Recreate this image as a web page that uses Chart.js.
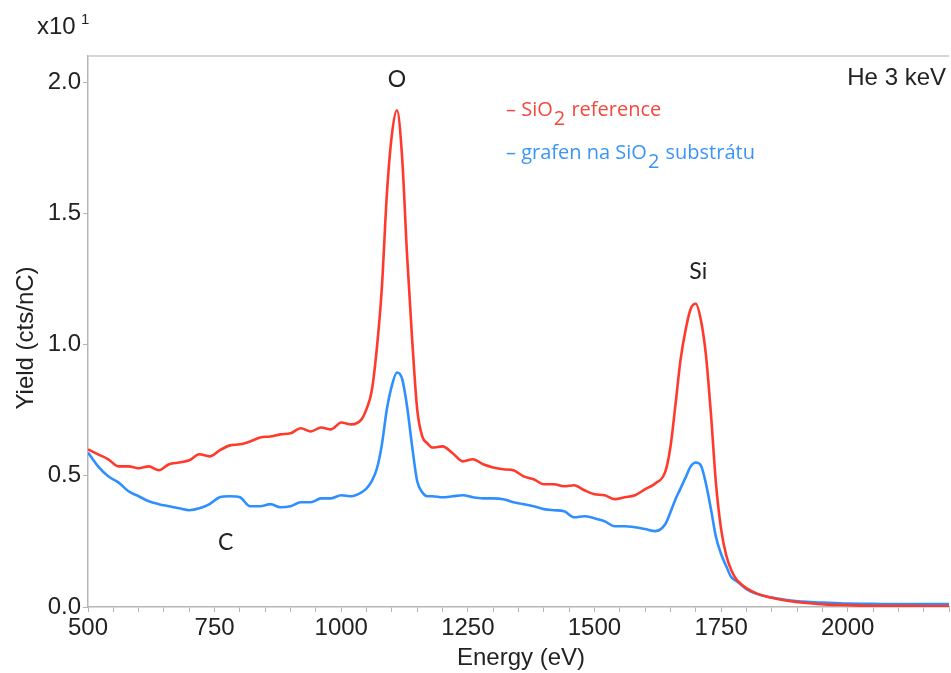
<!DOCTYPE html>
<html>
<head>
<meta charset="utf-8">
<script src="https://cdn.jsdelivr.net/npm/chart.js@4.4.0/dist/chart.umd.min.js"></script>
<style>
    body { margin: 0; background: #fff; }
    #spectrum { display: block; }
</style>
</head>
<body>
<canvas id="spectrum" width="951" height="673"></canvas>
<script>
    // energies (eV) and yields (x10 cts/nC)
    var energies = [
        500, 520, 540, 560, 580, 600, 620, 640, 660, 680, 700, 720, 740, 760, 780, 800, 820, 840, 860, 880,
        900, 920, 940, 960, 980, 1000, 1020, 1040,
        1050, 1060, 1070, 1080, 1090, 1100, 1110, 1120, 1130, 1140, 1150, 1160, 1170, 1180,
        1200, 1220, 1240, 1260, 1280, 1300, 1320, 1340, 1360, 1380, 1400, 1420, 1440, 1460, 1480, 1500,
        1520, 1540, 1560, 1580, 1600, 1620, 1640,
        1650, 1660, 1670, 1680, 1690, 1700, 1710, 1720, 1730, 1740, 1750, 1760, 1770, 1780, 1790, 1800,
        1820, 1850, 1880, 1920, 1960, 2000, 2050, 2100, 2150, 2200
    ];

    var sio2Reference = [
        0.601, 0.582, 0.563, 0.536, 0.536, 0.529, 0.536, 0.521, 0.544, 0.551, 0.559, 0.582, 0.574, 0.597, 0.616, 0.620, 0.631, 0.646, 0.650, 0.658,
        0.662, 0.681, 0.669, 0.684, 0.677, 0.703, 0.696, 0.715,
        0.755, 0.821, 0.98, 1.21, 1.57, 1.80, 1.893, 1.72, 1.34, 1.02, 0.753, 0.65, 0.624, 0.608,
        0.612, 0.586, 0.555, 0.563, 0.544, 0.532, 0.525, 0.521, 0.498, 0.487, 0.468, 0.468, 0.460, 0.464, 0.445, 0.430,
        0.426, 0.411, 0.418, 0.426, 0.449, 0.471, 0.517,
        0.61, 0.772, 0.943, 1.057, 1.137, 1.156, 1.095, 0.962, 0.734, 0.468, 0.297, 0.198, 0.141, 0.106, 0.087, 0.072,
        0.052, 0.035, 0.024, 0.015, 0.009, 0.007, 0.005, 0.005, 0.004, 0.004
    ];

    var grafenNaSio2 = [
        0.589, 0.536, 0.498, 0.475, 0.441, 0.422, 0.403, 0.392, 0.384, 0.376, 0.369, 0.376, 0.392, 0.418, 0.422, 0.418, 0.384, 0.384, 0.392, 0.380,
        0.384, 0.399, 0.399, 0.414, 0.414, 0.426, 0.422, 0.437,
        0.452, 0.479, 0.525, 0.616, 0.753, 0.844, 0.894, 0.871, 0.764, 0.612, 0.479, 0.437, 0.422, 0.422,
        0.418, 0.422, 0.426, 0.418, 0.414, 0.414, 0.411, 0.399, 0.392, 0.384, 0.373, 0.369, 0.365, 0.342, 0.346, 0.338,
        0.327, 0.308, 0.308, 0.304, 0.297, 0.289, 0.316,
        0.361, 0.411, 0.452, 0.494, 0.536, 0.551, 0.540, 0.471, 0.373, 0.266, 0.202, 0.156, 0.114, 0.099, 0.084, 0.068,
        0.050, 0.036, 0.027, 0.020, 0.016, 0.013, 0.012, 0.011, 0.011, 0.011
    ];

    var xMajorTicks = [500, 750, 1000, 1250, 1500, 1750, 2000];
    var yTicks = [0, 0.5, 1.0, 1.5, 2.0];

    var peakLabels = [
        {text: 'O', x: 1110, y: 2.01},
        {text: 'Si', x: 1705, y: 1.28},
        {text: 'C', x: 772, y: 0.245}
    ];

    var RED = '#ff3a2c';
    var BLUE = '#2f8fff';
    var TEXT = '#222';

    function toPoints(xs, ys) {
        var pts = [];
        for (var i = 0; i < xs.length; i++) {
            pts.push({x: xs[i], y: ys[i]});
        }
        return pts;
    }

    // draws "– SiO₂ ..." style legend lines with a lowered 2
    function drawSubLine(ctx, x, y, before, after, color) {
        ctx.fillStyle = color;
        ctx.font = '20px "Open Sans"';
        ctx.textBaseline = 'middle';
        ctx.textAlign = 'left';
        ctx.fillText(before, x, y);
        x += ctx.measureText(before).width + 1;
        ctx.fillText('2', x, y + 9);
        x += ctx.measureText('2').width + 1;
        ctx.fillText(after, x, y);
    }

    var textPlugin = {
        id: 'texts',
        afterDraw: function(chart) {
            var ctx = chart.ctx;
            var area = chart.chartArea;
            var xs = chart.scales.x, ys = chart.scales.y;
            ctx.save();

            // top frame line
            ctx.strokeStyle = '#c8c8c8';
            ctx.lineWidth = 1.5;
            ctx.beginPath();
            ctx.moveTo(area.left, area.top);
            ctx.lineTo(area.right, area.top);
            ctx.stroke();

            ctx.fillStyle = TEXT;
            ctx.textAlign = 'center';
            ctx.textBaseline = 'middle';
            ctx.font = '23px Lato';
            peakLabels.forEach(function(p) {
                ctx.fillText(p.text, xs.getPixelForValue(p.x), ys.getPixelForValue(p.y));
            });

            ctx.textAlign = 'right';
            ctx.font = '24px "Liberation Sans"';
            ctx.fillText('He 3 keV', area.right - 3, area.top + 22);

            // exponent
            ctx.textAlign = 'left';
            ctx.font = '24px "Liberation Sans"';
            ctx.fillText('x10', 37, 27);
            ctx.font = '15px "Liberation Sans"';
            ctx.fillText('1', 81, 20);

            // axis titles
            ctx.textAlign = 'center';
            ctx.font = '24px "Liberation Sans"';
            ctx.fillText('Energy (eV)', 521, 658);
            ctx.translate(26, 338);
            ctx.rotate(-Math.PI / 2);
            ctx.fillText('Yield (cts/nC)', 0, 0);
            ctx.restore();

            ctx.save();
            drawSubLine(ctx, 506, 110, '– SiO', ' reference', '#f5483c');
            drawSubLine(ctx, 506, 153, '– grafen na SiO', ' substrátu', '#3a95f5');
            ctx.restore();
        }
    };

    var ctx = document.getElementById('spectrum').getContext('2d');
    var chart = new Chart(ctx, {
        type: 'line',
        data: {
            datasets: [
                {
                    label: 'SiO2 reference',
                    data: toPoints(energies, sio2Reference),
                    borderColor: RED,
                    borderWidth: 2.6,
                    pointRadius: 0,
                    cubicInterpolationMode: 'monotone',
                    fill: false
                },
                {
                    label: 'grafen na SiO2 substrátu',
                    data: toPoints(energies, grafenNaSio2),
                    borderColor: BLUE,
                    borderWidth: 2.6,
                    pointRadius: 0,
                    cubicInterpolationMode: 'monotone',
                    fill: false
                }
            ]
        },
        options: {
            responsive: false,
            animation: false,
            layout: {padding: {top: 56, right: 0, left: 0, bottom: 0}},
            plugins: {
                legend: {display: false},
                tooltip: {enabled: false}
            },
            scales: {
                x: {
                    type: 'linear',
                    min: 500,
                    max: 2200,
                    afterFit: function(scale) { scale.height = 66; },
                    afterBuildTicks: function(scale) {
                        var t = [];
                        for (var v = 500; v <= 2200; v += 50) t.push({value: v});
                        scale.ticks = t;
                    },
                    ticks: {
                        autoSkip: false,
                        maxRotation: 0,
                        padding: 2,
                        color: TEXT,
                        font: {family: 'Liberation Sans', size: 24},
                        callback: function(v) {
                            return xMajorTicks.indexOf(v) >= 0 ? String(v) : '';
                        }
                    },
                    grid: {
                        drawOnChartArea: false,
                        tickLength: 5,
                        color: '#b5b5b5'
                    },
                    border: {color: '#b5b5b5', width: 1.5}
                },
                y: {
                    min: 0,
                    max: 2.1,
                    afterFit: function(scale) { scale.width = 88; },
                    afterBuildTicks: function(scale) {
                        scale.ticks = yTicks.map(function(v) { return {value: v}; });
                    },
                    ticks: {
                        padding: 2,
                        color: TEXT,
                        font: {family: 'Liberation Sans', size: 24},
                        callback: function(v) { return v.toFixed(1); }
                    },
                    grid: {
                        drawOnChartArea: false,
                        tickLength: 5,
                        color: '#b5b5b5'
                    },
                    border: {color: '#b5b5b5', width: 1.5}
                }
            }
        },
        plugins: [textPlugin]
    });
</script>
</body>
</html>
